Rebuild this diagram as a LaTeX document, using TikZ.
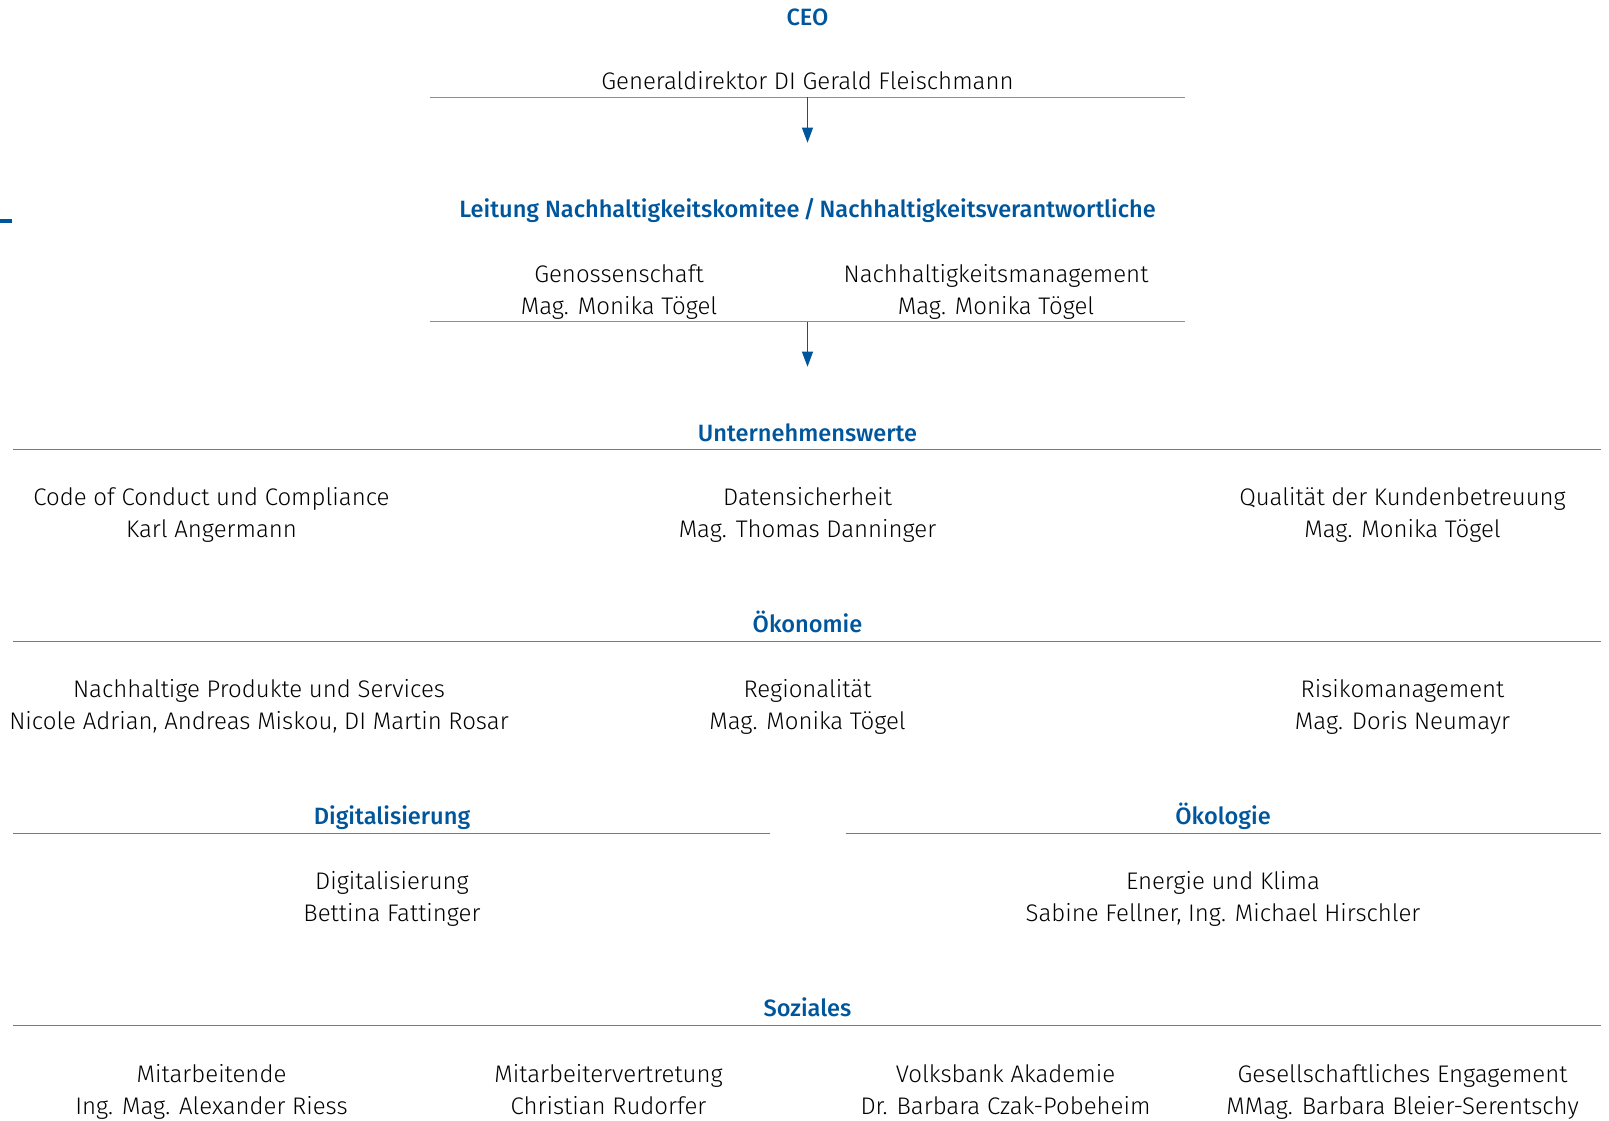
\documentclass[tikz,border=0pt]{standalone}
\usepackage{fontspec}
\setmainfont{Fira Sans Light}[BoldFont={Fira Sans Medium}]
\usetikzlibrary{arrows.meta}
\definecolor{vbblue}{RGB}{0,86,156}
\definecolor{vbline}{RGB}{70,136,198}
\definecolor{vbgrey}{RGB}{108,150,192}
\tikzset{
  head/.style={font=\fontsize{23.6}{26}\selectfont\bfseries, text=vbblue, inner sep=0pt, anchor=base},
  entry/.style={font=\fontsize{24}{31.8}\selectfont, align=center, inner sep=0pt, anchor=base},
  rule/.style={vbline, line width=1.3pt},
  toprule/.style={vbgrey, line width=1.3pt},
  flow/.style={vbblue, line width=1pt, -{Triangle[length=15pt,width=11pt]}},
}
\begin{document}
\begin{tikzpicture}[x=1pt,y=-1pt]
 \useasboundingbox (0,0) rectangle (1609,1121);
 % CEO
 \node[head] (ceo) at (807.5,25.8) {CEO};
 \node[entry] (gd) at (807.5,90) {Generaldirektor DI Gerald Fleischmann};
 \draw[toprule] (430,97.5) -- (1185,97.5);
 \coordinate (a1) at (807.5,97.5);
 \coordinate (a1e) at (807.5,142.7);
 \draw[flow] (a1) -- (a1e);
 % side mark
 \fill[vbblue] (0,218.6) rectangle (12,222.6);
 % Nachhaltigkeitskomitee
 \node[head] (leitung) at (807.5,217.8) {Leitung Nachhaltigkeitskomitee\,/\,Nachhaltigkeitsverantwortliche};
 \node[entry] (gen) at (619,314.3) {Genossenschaft\\Mag. Monika Tögel};
 \node[entry] (nhm) at (996,314.3) {Nachhaltigkeitsmanagement\\Mag. Monika Tögel};
 \draw[toprule] (430,321.5) -- (1185,321.5);
 \coordinate (a2) at (807.5,321.5);
 \coordinate (a2e) at (807.5,366.7);
 \draw[flow] (a2) -- (a2e);
 % Unternehmenswerte
 \node[head] (uw) at (807.5,441) {Unternehmenswerte};
 \draw[rule] (13,449.6) -- (1601,449.6);
 \node[entry] (coc) at (211.5,537.4) {Code of Conduct und Compliance\\Karl Angermann};
 \node[entry] (dat) at (807.5,537.4) {Datensicherheit\\Mag. Thomas Danninger};
 \node[entry] (qual) at (1402.5,537.4) {Qualität der Kundenbetreuung\\Mag. Monika Tögel};
 % Oekonomie
 \node[head] (oek) at (807.5,632.9) {Ökonomie};
 \draw[rule] (13,641.4) -- (1601,641.4);
 \node[entry] (nps) at (259,729.3) {Nachhaltige Produkte und Services\\Nicole Adrian, Andreas Miskou, DI Martin Rosar};
 \node[entry] (reg) at (807.5,729.3) {Regionalität\\Mag. Monika Tögel};
 \node[entry] (risk) at (1402.5,729.3) {Risikomanagement\\Mag. Doris Neumayr};
 % Digitalisierung / Oekologie
 \node[head] (dig) at (392,824.7) {Digitalisierung};
 \draw[rule] (13,833.3) -- (769.5,833.3);
 \node[head] (oeko) at (1223,824.7) {Ökologie};
 \draw[rule] (845.5,833.3) -- (1601,833.3);
 \node[entry] (digi) at (392,921.2) {Digitalisierung\\Bettina Fattinger};
 \node[entry] (ek) at (1223,921.2) {Energie und Klima\\Sabine Fellner, Ing. Michael Hirschler};
 % Soziales
 \node[head] (soz) at (807.5,1016.7) {Soziales};
 \draw[rule] (13,1025.3) -- (1601,1025.3);
 \node[entry] (ma) at (211.5,1114.1) {Mitarbeitende\\Ing. Mag. Alexander Riess};
 \node[entry] (mav) at (608.5,1114.1) {Mitarbeitervertretung\\Christian Rudorfer};
 \node[entry] (vba) at (1005.5,1114.1) {Volksbank Akademie\\Dr. Barbara Czak-Pobeheim};
 \node[entry] (ge) at (1402.5,1114.1) {Gesellschaftliches Engagement\\MMag. Barbara Bleier-Serentschy};
\end{tikzpicture}
\end{document}
